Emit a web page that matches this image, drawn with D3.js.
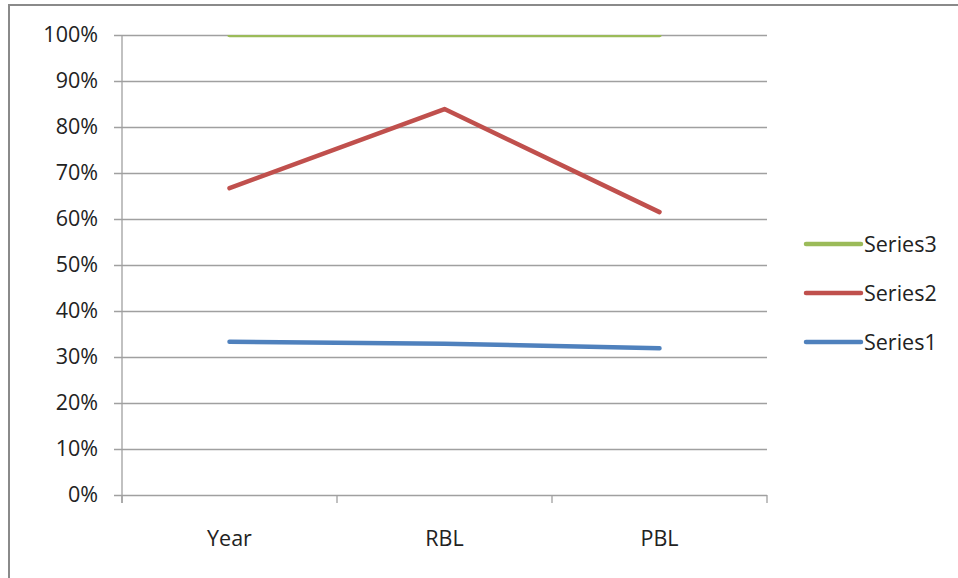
<!DOCTYPE html>
<html>
<head>
<meta charset="utf-8">
<script src="https://cdn.jsdelivr.net/npm/d3@7"></script>
<style>
  html, body { margin: 0; padding: 0; background: #fff; }
  svg { display: block; }
  text { font-family: "Open Sans", sans-serif; fill: #222; }
</style>
</head>
<body>
<svg id="chart" width="958" height="578"></svg>
<script>
// Categories and series values (fractions of 100%)
const categories = ["Year", "RBL", "PBL"];
const series1 = [0.333, 0.329, 0.319];
const series2 = [0.667, 0.839, 0.615];
const series3 = [1.0, 1.0, 1.0];
const yTicks = [0, 0.1, 0.2, 0.3, 0.4, 0.5, 0.6, 0.7, 0.8, 0.9, 1.0];

const seriesList = [
  { name: "Series1", values: series1, color: "#4F81BD" },
  { name: "Series2", values: series2, color: "#C0504D" },
  { name: "Series3", values: series3, color: "#9BBB59" }
];

const svg = d3.select("#chart");
const plot = { left: 122, right: 767, top: 35, bottom: 495 };

// Outer chart frame (runs off the right and bottom edges)
svg.append("rect")
  .attr("x", 9).attr("y", 5)
  .attr("width", 1000).attr("height", 700)
  .attr("fill", "none")
  .attr("stroke", "#8a8a8a")
  .attr("stroke-width", 2);

// Plot-area clip so lines at the top edge are cut like the plot box
svg.append("defs").append("clipPath")
  .attr("id", "plotClip")
  .append("rect")
  .attr("x", plot.left).attr("y", plot.top)
  .attr("width", plot.right - plot.left)
  .attr("height", plot.bottom - plot.top);

const x = d3.scaleBand().domain(categories).range([plot.left, plot.right]).paddingInner(0).paddingOuter(0);
const y = d3.scaleLinear().domain([0, 1]).range([plot.bottom, plot.top]);
const xc = d => x(d) + x.bandwidth() / 2;

// Horizontal gridlines with left tick marks
const yAxis = d3.axisLeft(y)
  .tickValues(yTicks)
  .tickFormat(d3.format(".0%"))
  .tickSize(-(plot.right - plot.left + 8))
  .tickSizeOuter(0)
  .tickPadding(16);

const gy = svg.append("g")
  .attr("transform", `translate(${plot.left - 8},0)`)
  .call(yAxis);
gy.select(".domain").remove();
gy.selectAll(".tick line").attr("stroke", "#a0a0a0").attr("stroke-width", 1.3);
gy.selectAll(".tick text")
  .attr("font-size", 21.5)
  .attr("fill", "#222")
  .style("font-family", "'Open Sans', sans-serif");

// Vertical axis line
svg.append("line")
  .attr("x1", plot.left).attr("x2", plot.left)
  .attr("y1", plot.top).attr("y2", plot.bottom + 8)
  .attr("stroke", "#a0a0a0").attr("stroke-width", 1.3);

// Category axis: boundary ticks between bands
const boundaries = categories.map(c => x(c)).concat([x(categories[categories.length - 1]) + x.bandwidth()]);
svg.append("g").selectAll("line")
  .data(boundaries)
  .join("line")
  .attr("x1", d => d).attr("x2", d => d)
  .attr("y1", plot.bottom).attr("y2", plot.bottom + 8)
  .attr("stroke", "#a0a0a0").attr("stroke-width", 1.3);

svg.append("g").selectAll("text")
  .data(categories)
  .join("text")
  .attr("x", d => xc(d))
  .attr("y", 546)
  .attr("text-anchor", "middle")
  .attr("font-size", 21.5)
  .text(d => d);

// Series lines
const line = d3.line()
  .x((d, i) => xc(categories[i]))
  .y(d => y(d));

svg.append("g")
  .attr("clip-path", "url(#plotClip)")
  .selectAll("path")
  .data(seriesList)
  .join("path")
  .attr("d", s => line(s.values))
  .attr("fill", "none")
  .attr("stroke", s => s.color)
  .attr("stroke-width", 4.5)
  .attr("stroke-linecap", "round")
  .attr("stroke-linejoin", "round");

// Legend (Series3 on top)
const legendItems = seriesList.slice().reverse();
const legend = svg.append("g").selectAll("g")
  .data(legendItems)
  .join("g")
  .attr("transform", (d, i) => `translate(806,${244 + i * 49})`);

legend.append("line")
  .attr("x1", 0).attr("x2", 55)
  .attr("y1", 0).attr("y2", 0)
  .attr("stroke", d => d.color)
  .attr("stroke-width", 4.5)
  .attr("stroke-linecap", "round");

legend.append("text")
  .attr("x", 58)
  .attr("y", 0)
  .attr("dy", "0.35em")
  .attr("font-size", 21.5)
  .text(d => d.name);
</script>
</body>
</html>
